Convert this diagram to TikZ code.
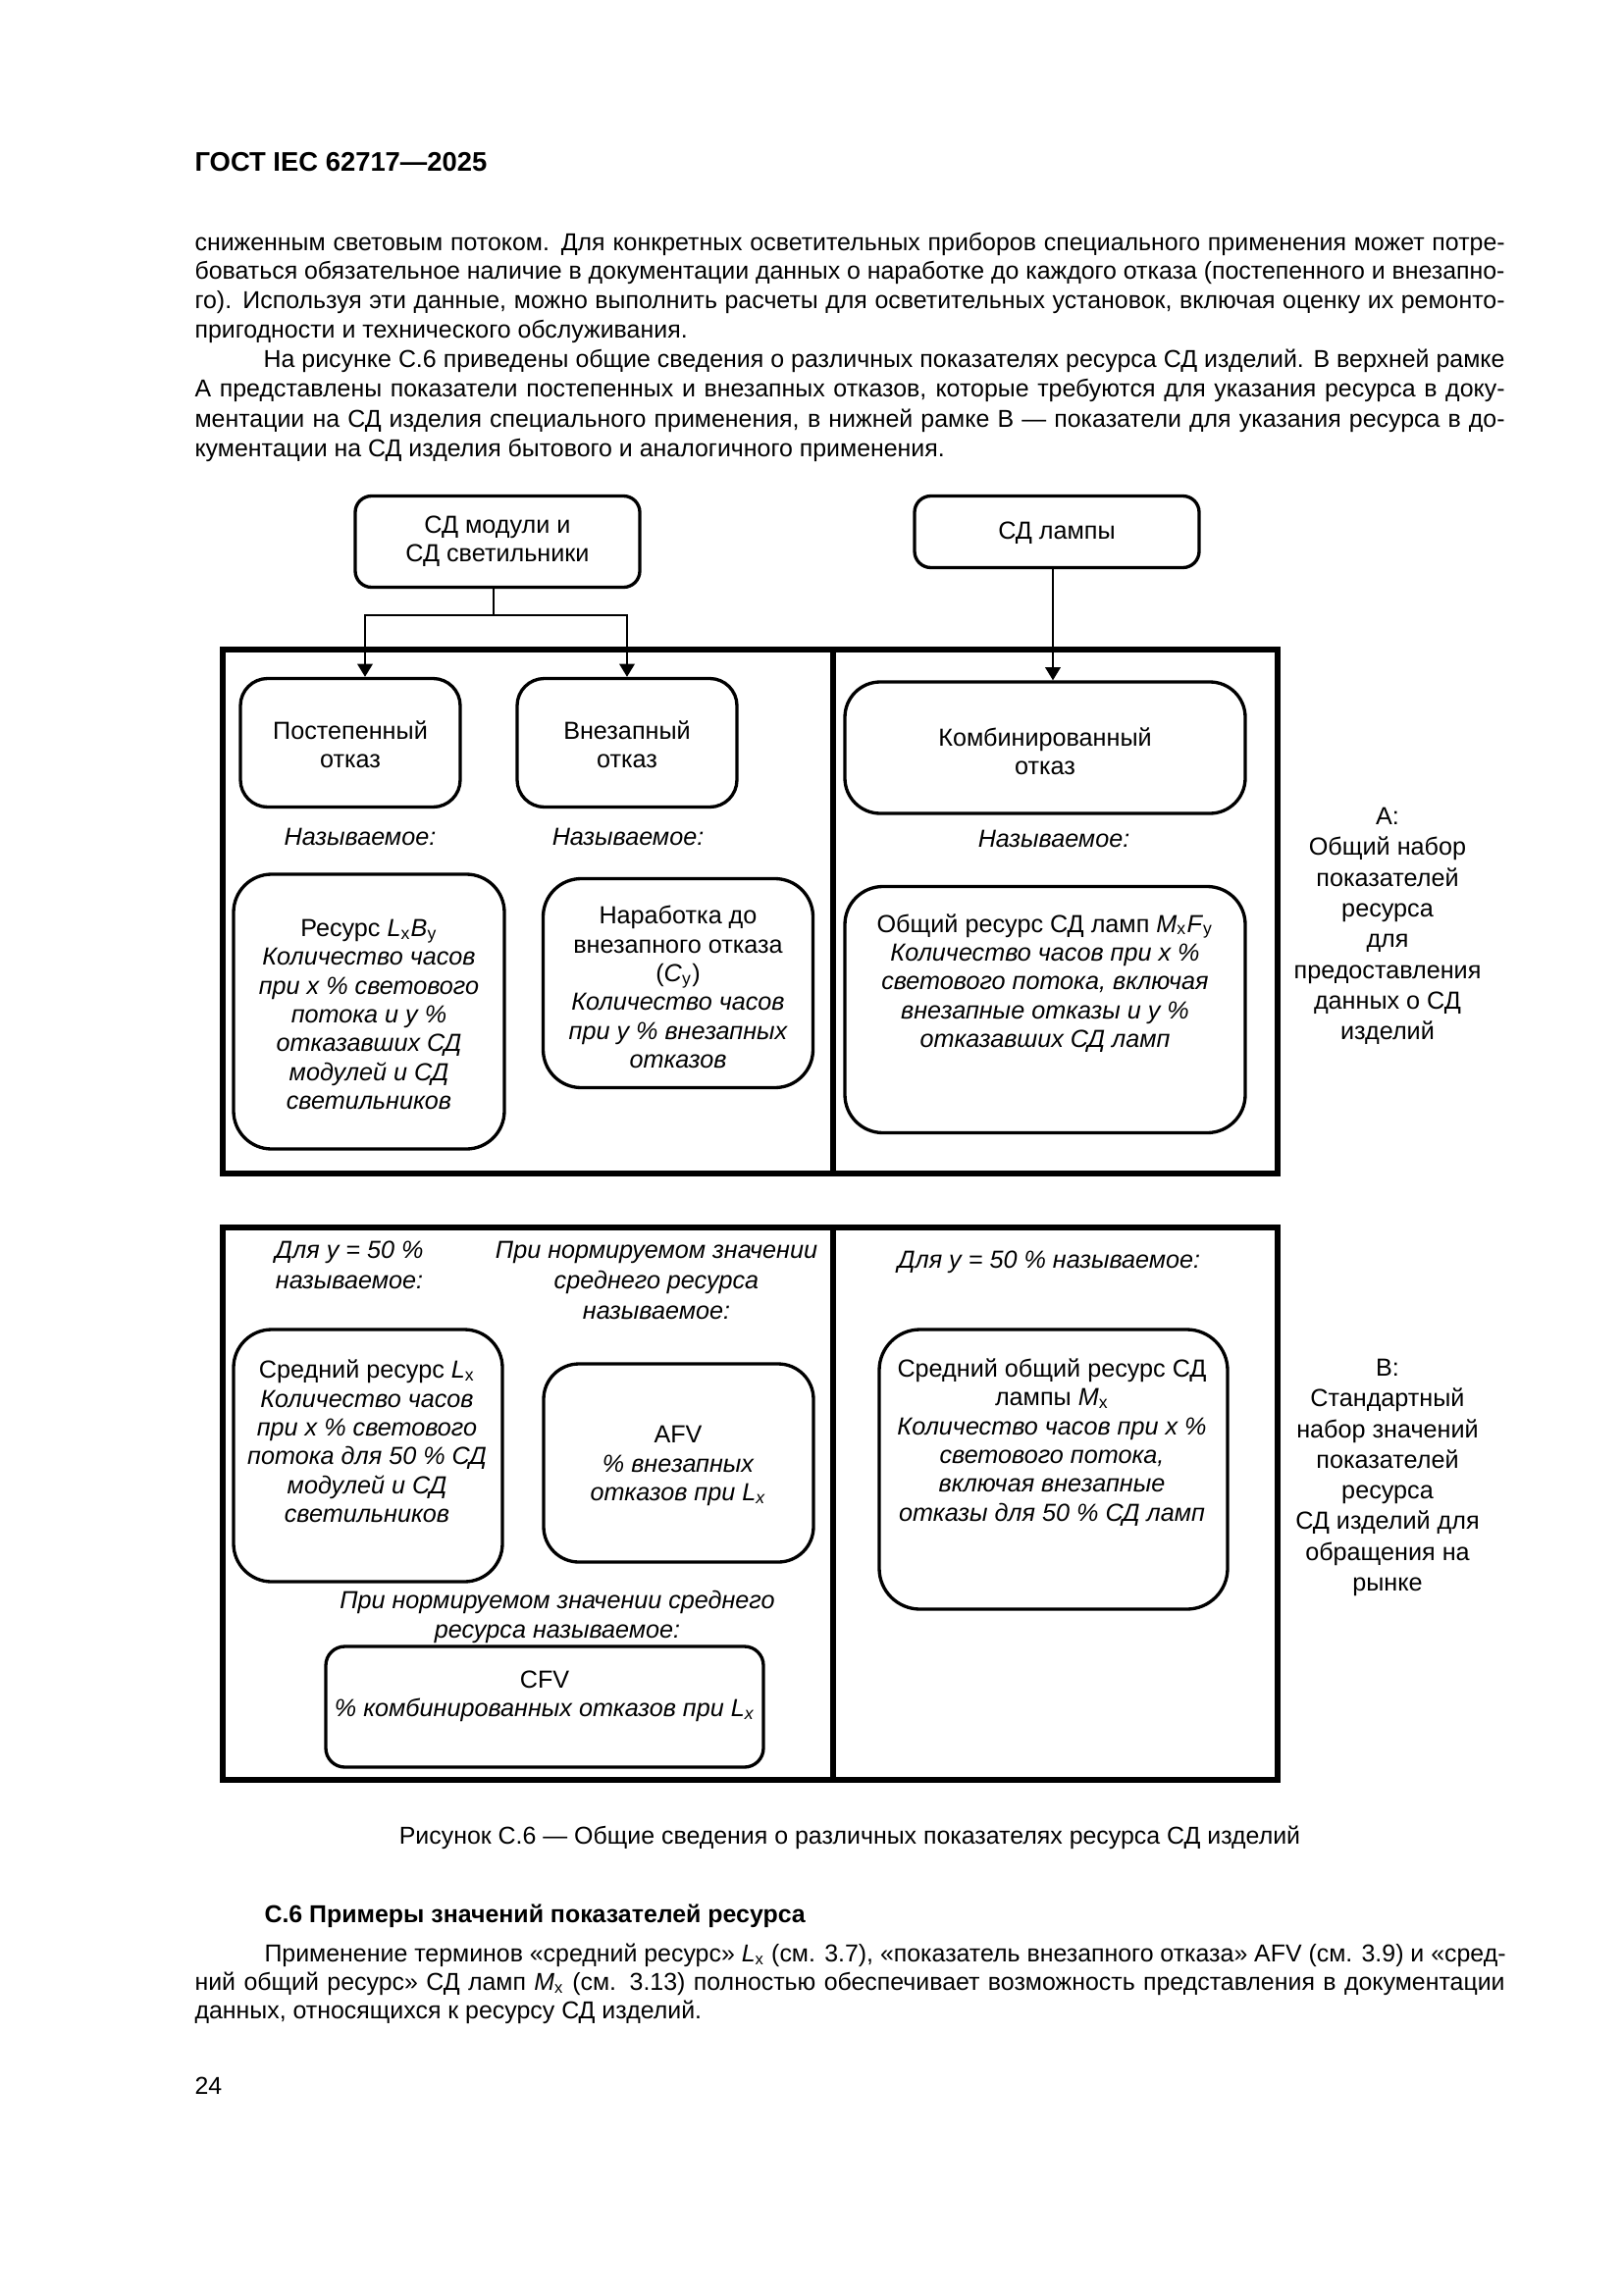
\documentclass[tikz,border=0pt]{standalone}
\usepackage{fontspec}
\setmainfont{Liberation Sans}
\usetikzlibrary{arrows.meta}
\newcommand\jl[1]{\makebox[482.3pt][s]{#1}}
\newcommand\jli[1]{\makebox[457.0pt][s]{#1}}
\begin{document}
\begin{tikzpicture}[x=0.36125pt,y=-0.36125pt,
  body/.style={inner sep=0pt, anchor=mid west, font=\fontsize{9.0}{11}\selectfont},
  dtxt/.style={inner sep=0pt, align=center, font=\fontsize{9.1}{10.6}\selectfont},
  side/.style={inner sep=0pt, align=center, font=\fontsize{9.1}{11.3}\selectfont},
  bx/.style n args={3}{draw, line width=1.2pt, rounded corners=#3, inner sep=0pt,
     minimum width=#1*0.36125pt, minimum height=#2*0.36125pt},
  frm/.style 2 args={draw, line width=1.9pt, inner sep=0pt,
     minimum width=#1*0.36125pt, minimum height=#2*0.36125pt},
  divider/.style={line width=1.9pt},
  conn/.style={line width=0.8pt},
  arr/.style={line width=0.8pt, -{Triangle[length=4.8pt,width=5.6pt]}}
]
\useasboundingbox (0,0) rectangle (1654,2339);

% ---------- page text ----------
\node[body, font=\bfseries\fontsize{9.9}{12}\selectfont] (hd) at (198,167) {ГОСТ IEC 62717—2025};

\node[body] (t1) at (198,248) {\jl{сниженным световым потоком. Для конкретных осветительных приборов специального применения может потре-}};
\node[body] (t2) at (198,277) {\jl{боваться обязательное наличие в документации данных о наработке до каждого отказа (постепенного и внезапно-}};
\node[body] (t3) at (198,307) {\jl{го). Используя эти данные, можно выполнить расчеты для осветительных установок, включая оценку их ремонто-}};
\node[body] (t4) at (198,337) {пригодности и технического обслуживания.};
\node[body] (t5) at (268,367) {\jli{На рисунке С.6 приведены общие сведения о различных показателях ресурса СД изделий. В верхней рамке}};
\node[body] (t6) at (198,397) {\jl{А представлены показатели постепенных и внезапных отказов, которые требуются для указания ресурса в доку-}};
\node[body] (t7) at (198,428) {\jl{ментации на СД изделия специального применения, в нижней рамке В — показатели для указания ресурса в до-}};
\node[body] (t8) at (198,458) {кументации на СД изделия бытового и аналогичного применения.};

% ---------- top boxes ----------
\node[bx={290}{93}{6pt}] (m) at (507,552) {};
\node[dtxt] (mt) at (507,552) {СД модули и\\СД светильники};
\node[bx={290}{73}{6pt}] (l) at (1077,542) {};
\node[dtxt] (lt) at (1077,543) {СД лампы};

% ---------- frame A ----------
\node[frm={1075}{534}] (A) at (764.5,929) {};
\coordinate (mx) at (849,0);
\draw[divider] (A.north -| mx) -- (A.south -| mx);

\node[bx={224}{131}{10pt}] (p) at (357,757) {};
\node[dtxt] (pt) at (357,759) {Постепенный\\отказ};
\node[bx={224}{131}{10pt}] (v) at (639,757) {};
\node[dtxt] (vt) at (639,759) {Внезапный\\отказ};
\node[bx={408}{134}{13pt}] (c) at (1065,762) {};
\node[dtxt] (ct) at (1065,766) {Комбинированный\\отказ};

\node[dtxt, font=\itshape\fontsize{9.1}{10.6}\selectfont] (n1) at (367,853) {Называемое:};
\node[dtxt, font=\itshape\fontsize{9.1}{10.6}\selectfont] (n2) at (640,853) {Называемое:};
\node[dtxt, font=\itshape\fontsize{9.1}{10.6}\selectfont] (n3) at (1074,855) {Называемое:};

\node[bx={276}{280}{14pt}] (lb) at (376,1031) {};
\node[dtxt] (lbt) at (376,1034) {Ресурс \textit{L}\textsubscript{x}\textit{B}\textsubscript{y}\\
  \itshape Количество часов\\ \itshape при x \% светового\\ \itshape потока и y \%\\
  \itshape отказавших СД\\ \itshape модулей и СД\\ \itshape светильников};
\node[bx={275}{213}{14pt}] (nc) at (691,1002) {};
\node[dtxt] (nct) at (691,1006) {Наработка до\\внезапного отказа\\(\textit{C}\textsubscript{y})\\
  \itshape Количество часов\\ \itshape при y \% внезапных\\ \itshape отказов};
\node[bx={408}{251}{14pt}] (mf) at (1065,1029) {};
\node[dtxt] (mft) at (1065,1002) {Общий ресурс СД ламп \textit{M}\textsubscript{x}\textit{F}\textsubscript{y}\\
  \itshape Количество часов при x \%\\ \itshape светового потока, включая\\
  \itshape внезапные отказы и y \%\\ \itshape отказавших СД ламп};

\node[side] (la) at (1414,944) {А:\\Общий набор\\показателей\\ресурса\\для\\предоставления\\данных о СД\\изделий};

% connectors
\coordinate (jl) at (372,627);
\coordinate (jr) at (639,627);
\coordinate (ax) at (1073,0);
\draw[arr] (m.south -| 503,0) |- (jl) -- (jl |- p.north);
\draw[arr] (m.south -| 503,0) |- (jr) -- (jr |- v.north);
\draw[arr] (l.south -| ax) -- (c.north -| ax);

% ---------- frame B ----------
\node[frm={1075}{563}] (B) at (764.5,1532.5) {};
\draw[divider] (B.north -| mx) -- (B.south -| mx);

\node[dtxt, font=\itshape\fontsize{9.1}{11.3}\selectfont] (q1) at (356,1289) {Для y = 50 \%\\называемое:};
\node[dtxt, font=\itshape\fontsize{9.1}{11.3}\selectfont] (q2) at (669,1305) {При нормируемом значении\\среднего ресурса\\называемое:};
\node[dtxt, font=\itshape\fontsize{9.1}{10.6}\selectfont] (q3) at (1069,1286) {Для y = 50 \% называемое:};

\node[bx={274}{257}{14pt}] (sr) at (375,1483.5) {};
\node[dtxt] (srt) at (374,1469) {Средний ресурс \textit{L}\textsubscript{x}\\
  \itshape Количество часов\\ \itshape при x \% светового\\ \itshape потока для 50 \% СД\\
  \itshape модулей и СД\\ \itshape светильников};
\node[bx={275}{202}{13pt}] (af) at (691.5,1491) {};
\node[dtxt] (aft) at (691,1494) {AFV\\ \itshape \% внезапных\\ \itshape отказов при \textit{L}\textsubscript{x}};
\node[bx={355}{285}{15pt}] (so) at (1073.5,1497.5) {};
\node[dtxt] (sot) at (1072,1470) {Средний общий ресурс СД\\лампы \textit{M}\textsubscript{x}\\
  \itshape Количество часов при x \%\\ \itshape светового потока,\\
  \itshape включая внезапные\\ \itshape отказы для 50 \% СД ламп};

\node[dtxt, font=\itshape\fontsize{9.1}{10.9}\selectfont] (q4) at (568,1648) {При нормируемом значении среднего\\ресурса называемое:};
\node[bx={446}{123}{7pt}] (cf) at (555,1739.5) {};
\node[dtxt] (cft) at (555,1729) {CFV\\ \itshape \% комбинированных отказов при \textit{L}\textsubscript{x}};

\node[side] (lbb) at (1414,1506) {В:\\Стандартный\\набор значений\\показателей\\ресурса\\СД изделий для\\обращения на\\рынке};

% ---------- caption and following text ----------
\node[body, anchor=mid] (cap) at (866,1872) {Рисунок С.6 — Общие сведения о различных показателях ресурса СД изделий};
\node[body, font=\bfseries\fontsize{9.0}{11}\selectfont] (sh) at (269,1952) {С.6 Примеры значений показателей ресурса};
\node[body] (u1) at (269,1992) {\jli{Применение терминов «средний ресурс» \textit{L}\textsubscript{x} (см. 3.7), «показатель внезапного отказа» AFV (см. 3.9) и «сред-}};
\node[body] (u2) at (198,2021) {\jl{ний общий ресурс» СД ламп \textit{M}\textsubscript{x} (см. 3.13) полностью обеспечивает возможность представления в документации}};
\node[body] (u3) at (198,2050) {данных, относящихся к ресурсу СД изделий.};
\node[body] (pg) at (198,2127) {24};
\end{tikzpicture}
\end{document}
